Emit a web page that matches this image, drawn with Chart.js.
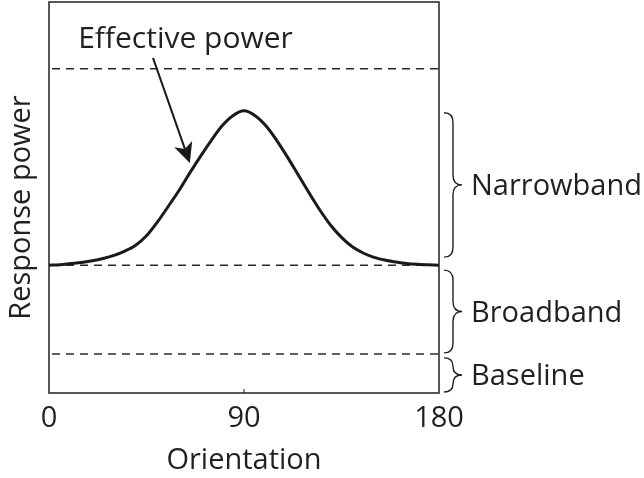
<!DOCTYPE html>
<html>
<head>
<meta charset="utf-8">
<script src="https://cdn.jsdelivr.net/npm/chart.js@4.4.1/dist/chart.umd.min.js"></script>
<style>
  html, body { margin: 0; padding: 0; background: #ffffff; }
  #wrap { width: 644px; height: 478px; }
</style>
</head>
<body>
<div id="wrap"><canvas id="c" width="644" height="478"></canvas></div>
<script>
// ---- data ----
const orientations   = [0, 5, 10, 15, 20, 25, 30, 35, 40, 45, 50, 55, 60, 65, 70, 75, 80, 85, 90,
                        95, 100, 105, 110, 115, 120, 125, 130, 135, 140, 145, 150, 155, 160, 165, 170, 175, 180];
const responsePower  = [3.27, 3.28, 3.31, 3.34, 3.38, 3.44, 3.52, 3.63, 3.78, 4.02, 4.37, 4.77, 5.18, 5.63, 6.06, 6.47, 6.84, 7.10, 7.22,
                        7.10, 6.84, 6.47, 6.04, 5.58, 5.12, 4.68, 4.29, 3.98, 3.74, 3.58, 3.47, 3.40, 3.35, 3.31, 3.29, 3.28, 3.27];
const xTickValues    = [0, 90, 180];
const levelNames     = ['Effective power', 'Broadband', 'Baseline'];
const levelValues    = [8.29, 3.27, 1.0];
const bandLabels     = ['Narrowband', 'Broadband', 'Baseline'];
const xTitle = 'Orientation';
const yTitle = 'Response power';
const arrowLabel = 'Effective power';

const INK = '#231f20';
const FONT = '"Open Sans", "Noto Sans", sans-serif';

const levelDatasets = levelValues.map((v, i) => ({
  label: levelNames[i] + ' level',
  data: [{x: xTickValues[0], y: v}, {x: xTickValues[xTickValues.length - 1], y: v}],
  borderColor: '#2a2a2a',
  borderWidth: 1.5,
  borderDash: [8, 6],
  borderDashOffset: 11,
  pointRadius: 0,
  fill: false,
  order: 2
}));

const curveDataset = {
  label: 'Response',
  data: orientations.map((o, i) => ({x: o, y: responsePower[i]})),
  borderColor: '#1a1a1a',
  borderWidth: 3,
  pointRadius: 0,
  fill: false,
  cubicInterpolationMode: 'monotone',
  order: 1
};

const decor = {
  id: 'decor',
  afterDraw(chart) {
    const ctx = chart.ctx;
    const xs = chart.scales.x, ys = chart.scales.y;
    const ca = chart.chartArea;
    ctx.save();
    // frame
    ctx.strokeStyle = INK;
    ctx.lineWidth = 1.5;
    ctx.strokeRect(ca.left, ca.top, ca.right - ca.left, ca.bottom - ca.top);
    // inward tick at middle value
    const tx = xs.getPixelForValue(xTickValues[1]);
    ctx.lineWidth = 1;
    ctx.beginPath(); ctx.moveTo(tx, ca.bottom); ctx.lineTo(tx, ca.bottom - 4); ctx.stroke();

    // y title
    ctx.fillStyle = INK;
    ctx.font = '29px ' + FONT;
    ctx.textAlign = 'center';
    ctx.textBaseline = 'middle';
    ctx.save();
    ctx.translate(22, (ca.top + ca.bottom) / 2 + 10);
    ctx.rotate(-Math.PI / 2);
    ctx.fillText(yTitle, 0, 0);
    ctx.restore();

    // braces
    const peak = Math.max(...responsePower);
    const ranges = [[peak, levelValues[1]], [levelValues[1], levelValues[2]], [levelValues[2], ys.min]];
    const insetTop = [2, 5, 4], insetBot = [8, 1, 1];
    const x0 = ca.right + 5, xStem = ca.right + 14, xTip = ca.right + 23;
    ctx.lineWidth = 1.4;
    ctx.strokeStyle = INK;
    ranges.forEach((r, i) => {
      const yT = ys.getPixelForValue(r[0]) + insetTop[i];
      const yB = ys.getPixelForValue(r[1]) - insetBot[i];
      const yM = (yT + yB) / 2;
      const rr = Math.min(10, (yB - yT) / 4);
      ctx.beginPath();
      ctx.moveTo(x0, yT);
      ctx.quadraticCurveTo(xStem, yT, xStem, yT + rr);
      ctx.lineTo(xStem, yM - rr);
      ctx.quadraticCurveTo(xStem, yM, xTip, yM);
      ctx.quadraticCurveTo(xStem, yM, xStem, yM + rr);
      ctx.lineTo(xStem, yB - rr);
      ctx.quadraticCurveTo(xStem, yB, x0, yB);
      ctx.stroke();
      ctx.textAlign = 'left';
      ctx.textBaseline = 'alphabetic';
      ctx.fillText(bandLabels[i], ca.right + 32, yM + 10.5);
    });

    // arrow label
    ctx.font = '30px ' + FONT;
    ctx.textAlign = 'center';
    ctx.textBaseline = 'alphabetic';
    ctx.fillText(arrowLabel, xs.getPixelForValue(63), ys.getPixelForValue(8.82));

    // arrow
    const sx = xs.getPixelForValue(48), sy = ys.getPixelForValue(8.57);
    const ex = xs.getPixelForValue(65), ey = ys.getPixelForValue(5.88);
    const dx = ex - sx, dy = ey - sy, len = Math.hypot(dx, dy);
    const ux = dx / len, uy = dy / len, nx = -uy, ny = ux;
    const L = 20, W = 9.5, notch = 5;
    ctx.strokeStyle = '#1a1a1a';
    ctx.lineWidth = 2;
    ctx.beginPath();
    ctx.moveTo(sx, sy);
    ctx.lineTo(ex - (L - notch) * ux, ey - (L - notch) * uy);
    ctx.stroke();
    ctx.fillStyle = '#1a1a1a';
    ctx.beginPath();
    ctx.moveTo(ex, ey);
    ctx.lineTo(ex - L * ux + W * nx, ey - L * uy + W * ny);
    ctx.lineTo(ex - (L - notch) * ux, ey - (L - notch) * uy);
    ctx.lineTo(ex - L * ux - W * nx, ey - L * uy - W * ny);
    ctx.closePath();
    ctx.fill();
    ctx.restore();
  }
};

new Chart(document.getElementById('c'), {
  type: 'line',
  data: { datasets: [curveDataset, ...levelDatasets] },
  options: {
    responsive: false,
    animation: false,
    layout: { padding: { top: 2, right: 205, left: 0, bottom: 0 } },
    plugins: { legend: { display: false }, tooltip: { enabled: false } },
    scales: {
      x: {
        type: 'linear',
        min: 0, max: 180,
        afterBuildTicks: (s) => { s.ticks = xTickValues.map(v => ({value: v})); },
        afterFit: (s) => { s.height = 85; },
        grid: { display: false, drawTicks: false },
        border: { display: false },
        ticks: { color: INK, font: { family: FONT, size: 29 }, padding: 8, maxRotation: 0 },
        title: { display: true, text: xTitle, color: INK, font: { family: FONT, size: 29 }, padding: { top: 0, bottom: 0 } }
      },
      y: {
        type: 'linear',
        min: 0, max: 10,
        afterFit: (s) => { s.width = 49; },
        grid: { display: false, drawTicks: false },
        border: { display: false },
        ticks: { display: false }
      }
    }
  },
  plugins: [decor]
});
</script>
</body>
</html>
